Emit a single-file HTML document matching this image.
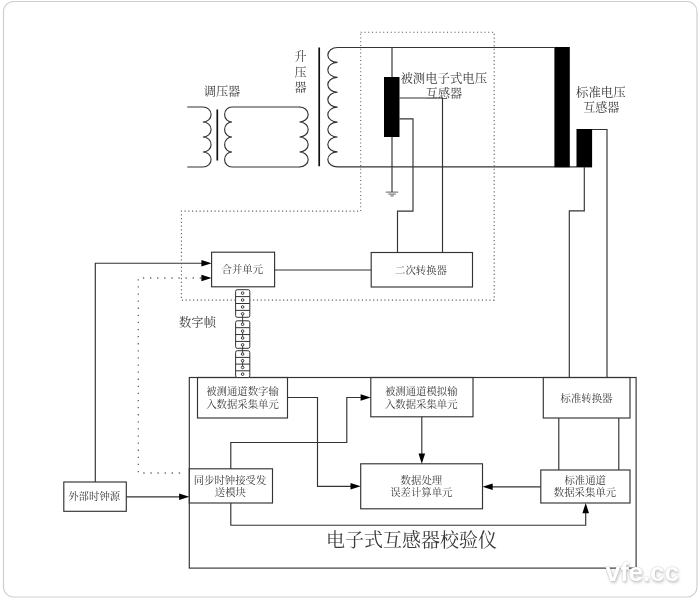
<!DOCTYPE html>
<html lang="zh-CN">
<head>
<meta charset="utf-8">
<title>电子式互感器校验仪</title>
<style>
html,body{margin:0;padding:0;background:#fff;}
body{width:700px;height:600px;overflow:hidden;position:relative;font-family:"Liberation Serif","Noto Serif CJK SC",serif;}
svg{position:absolute;left:0;top:0;display:block;will-change:transform;}
svg text{font-family:"Liberation Serif","Noto Serif CJK SC",serif;text-anchor:middle;fill:#3a3a3a;}
.wm{position:absolute;left:605.5px;top:556.5px;font:bold 26.5px/30px "Liberation Sans",sans-serif;color:#fff;letter-spacing:-0.3px;
text-shadow:0 0 2px rgba(0,0,0,.28),1px 2px 3px rgba(0,0,0,.2);}
</style>
</head>
<body>
<svg width="700" height="600" viewBox="0 0 700 600">
<rect x="3.5" y="1.5" width="693.5" height="595.5" rx="10" ry="10" fill="#fff" stroke="#cfcfcf" stroke-width="1.2"/>
<g fill="none" stroke="#333" stroke-width="1.15" stroke-linecap="butt" stroke-linejoin="miter">
<path d="M187.3,107H202.9a8.2,7.500 0 0 1 0,15.000a8.2,7.500 0 0 1 0,15.000a8.2,7.500 0 0 1 0,15.000a8.2,7.500 0 0 1 0,15.000H187.3"/>
<path d="M300,107H232a7.4,7.500 0 0 0 0,15.000a7.4,7.500 0 0 0 0,15.000a7.4,7.500 0 0 0 0,15.000a7.4,7.500 0 0 0 0,15.000H300"/>
<path d="M299.5,107a8.7,7.500 0 0 1 0,15.000a8.7,7.500 0 0 1 0,15.000a8.7,7.500 0 0 1 0,15.000a8.7,7.500 0 0 1 0,15.000"/>
<path d="M554.5,47.5H337.5a9.7,7.460 0 0 0 0,14.920a9.7,7.460 0 0 0 0,14.920a9.7,7.460 0 0 0 0,14.920a9.7,7.460 0 0 0 0,14.920a9.7,7.460 0 0 0 0,14.920a9.7,7.460 0 0 0 0,14.920a9.7,7.460 0 0 0 0,14.920a9.7,7.460 0 0 0 0,14.920H592"/>
<path d="M392,47.5V77M392,137V192"/>
<path d="M385.8,192.1H398.2M388.3,194.1H395.8M390.4,195.9H393.7" stroke-width="0.85" stroke="#444"/>
<path d="M399.5,98H442.5V252.5"/>
<path d="M399.5,118.8H413V211.1H397.5V252.5"/>
<rect x="371.2" y="252.5" width="101.3" height="34.5"/>
<path d="M371.2,270H274.6"/>
<rect x="211.6" y="252.2" width="63" height="34.6"/>
<path d="M592,129.5H607V377.5"/>
<path d="M584.3,167V210.8H569.3V377.5"/>
<path d="M95.3,482V263.2H202"/>
<rect x="63.8" y="482" width="62.5" height="29.3"/>
<path d="M126.3,496.8H180"/>
<rect x="189.3" y="377.5" width="446.8" height="190.6"/>
<rect x="197.5" y="377.5" width="90" height="40.5"/>
<rect x="370.8" y="377.5" width="102.2" height="39.3"/>
<rect x="543.3" y="377.5" width="86.7" height="40.5"/>
<rect x="189.3" y="468.8" width="83.2" height="34.2"/>
<rect x="360.7" y="463.8" width="121.8" height="45"/>
<rect x="540.8" y="470" width="89.2" height="33"/>
<path d="M287.5,397.5H317.5V486.3H352"/>
<path d="M230.8,468.8V442.5H346.8V397.5H361"/>
<path d="M421.8,416.8V454"/>
<path d="M558.8,418V470M618.8,418V470"/>
<path d="M540.8,486.8H492"/>
<path d="M230.8,503V525.2H585.7V512"/>
</g>
<path d="M217.3,109.5V160.5M319.2,47.5V166.2" stroke="#111" stroke-width="1.7" fill="none"/>
<g fill="#000">
<rect x="384" y="77" width="15.5" height="60"/>
<rect x="554.4" y="47" width="15.4" height="120.2"/>
<rect x="576.5" y="129" width="15.6" height="38"/>
</g>
<g fill="none" stroke="#5a5a5a" stroke-width="1.05" stroke-dasharray="1.1 2.65">
<path d="M360.7,32.3H494.2V300.1H181.4V211.1H360.7Z"/>
</g>
<g fill="none" stroke="#666" stroke-width="1.3" stroke-dasharray="1.3 5.8">
<path d="M201,278H138.3V473H184"/>
</g>
<g fill="#000">
<path d="M211.6,263.2L201.4,259.9V266.5Z"/>
<path d="M211.6,278L201.4,274.7V281.3Z"/>
<path d="M189.3,496.8L179.10000000000002,493.5V500.1Z"/>
<path d="M370.8,397.5L360.6,394.2V400.8Z"/>
<path d="M360.7,486.3L350.5,483.0V489.6Z"/>
<path d="M421.8,463.8L418.5,453.6H425.1Z"/>
<path d="M482.5,486.8L492.7,483.5V490.1Z"/>
<path d="M585.7,503L582.4000000000001,513.2H589.0Z"/>
</g>
<g fill="#fff" stroke="#333" stroke-width="1">
<rect x="235.6" y="289.7" width="14.2" height="27.60" rx="1.6"/><path d="M235.6,296.60H249.8"/><path d="M235.6,303.50H249.8"/><path d="M235.6,310.40H249.8"/>
<rect x="235.6" y="320.8" width="14.2" height="27.50" rx="1.6"/><path d="M235.6,327.68H249.8"/><path d="M235.6,334.55H249.8"/><path d="M235.6,341.43H249.8"/>
<rect x="235.6" y="350.7" width="14.2" height="26.80" rx="1.6"/><path d="M235.6,357.40H249.8"/><path d="M235.6,364.10H249.8"/><path d="M235.6,370.80H249.8"/>
<path d="M242.6,313.8V324.2M242.6,330V337M242.6,344.8V354M242.6,359V367" stroke-width="0.9"/>
<circle cx="242.6" cy="293.15" r="1.3" stroke-width="1"/>
<circle cx="242.6" cy="300.05" r="1.3" stroke-width="1"/>
<circle cx="242.6" cy="306.95" r="1.3" stroke-width="1"/>
<circle cx="242.6" cy="313.85" r="1.3" stroke-width="1"/>
<circle cx="242.6" cy="324.24" r="1.3" stroke-width="1"/>
<circle cx="242.6" cy="331.11" r="1.3" stroke-width="1"/>
<circle cx="242.6" cy="337.99" r="1.3" stroke-width="1"/>
<circle cx="242.6" cy="344.86" r="1.3" stroke-width="1"/>
<circle cx="242.6" cy="354.05" r="1.3" stroke-width="1"/>
<circle cx="242.6" cy="360.75" r="1.3" stroke-width="1"/>
<circle cx="242.6" cy="367.45" r="1.3" stroke-width="1"/>
<circle cx="242.6" cy="374.15" r="1.3" stroke-width="1"/>
</g>
<g>
<text x="222" y="96.2" font-size="12.2" >调压器</text>
<text x="300.5" y="60.6" font-size="12" >升</text>
<text x="300.5" y="76.6" font-size="12" >压</text>
<text x="300.5" y="91.7" font-size="12" >器</text>
<text x="443.8" y="83" font-size="12.4" >被测电子式电压</text>
<text x="444" y="98" font-size="12.1" >互感器</text>
<text x="600.8" y="97" font-size="12.4" >标准电压</text>
<text x="601.3" y="112.2" font-size="12.1" >互感器</text>
<text x="242.3" y="272.8" font-size="10.4" >合并单元</text>
<text x="421" y="273.7" font-size="10.4" >二次转换器</text>
<text x="197.5" y="326.5" font-size="12.3" >数字帧</text>
<text x="242.5" y="395.2" font-size="10.4" >被测通道数字输</text>
<text x="242.5" y="408.3" font-size="10.4" >入数据采集单元</text>
<text x="421.3" y="395" font-size="10.4" >被测通道模拟输</text>
<text x="421.3" y="407.6" font-size="10.4" >入数据采集单元</text>
<text x="586.5" y="401.7" font-size="10.4" >标准转换器</text>
<text x="230" y="483.7" font-size="10.4" >同步时钟接受发</text>
<text x="230.4" y="495.6" font-size="10.4" >送模块</text>
<text x="421.4" y="483.7" font-size="10.4" >数据处理</text>
<text x="421.3" y="496.2" font-size="10.4" >误差计算单元</text>
<text x="585.2" y="483.7" font-size="10.4" >标准通道</text>
<text x="585" y="496.2" font-size="10.4" >数据采集单元</text>
<text x="94.2" y="500.3" font-size="10.4" >外部时钟源</text>
<text x="411.6" y="547.4" font-size="19" fill="#222">电子式互感器校验仪</text>
</g>
</svg>
<div class="wm">vfe.cc</div>
</body>
</html>
